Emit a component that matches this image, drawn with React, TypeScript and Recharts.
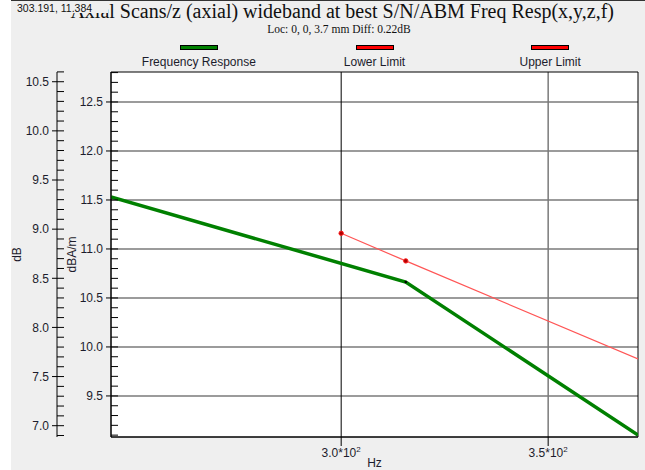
import React from "react"
import { ComposedChart, Line, XAxis, YAxis, CartesianGrid, ReferenceLine, ReferenceArea, Legend } from "recharts"

// Frequency response (dBA/m)
const responseHz = [244.4, 315.6, 371.7]
const responseDb = [11.53, 10.663, 9.1]

// Limit line (dBA/m)
const limitHz = [300, 315.6, 371.7]
const lowerLimitDb = [11.16, 10.878, 9.878]

const xDomain = [244.4, 371.7]
const dbAmDomain = [9.081, 12.806]
const dbDomain = [6.885, 10.599]

const xTicks = [300, 350]
const xTickLabels = ["3.0*10", "3.5*10"]

const dbAmTicks = [
  9.1, 9.2, 9.3, 9.4, 9.5, 9.6, 9.7, 9.8, 9.9, 10.0, 10.1, 10.2, 10.3, 10.4, 10.5,
  10.6, 10.7, 10.8, 10.9, 11.0, 11.1, 11.2, 11.3, 11.4, 11.5, 11.6, 11.7, 11.8, 11.9,
  12.0, 12.1, 12.2, 12.3, 12.4, 12.5, 12.6, 12.7, 12.8,
]
const dbTicks = [
  6.9, 7.0, 7.1, 7.2, 7.3, 7.4, 7.5, 7.6, 7.7, 7.8, 7.9, 8.0, 8.1, 8.2, 8.3, 8.4, 8.5,
  8.6, 8.7, 8.8, 8.9, 9.0, 9.1, 9.2, 9.3, 9.4, 9.5, 9.6, 9.7, 9.8, 9.9, 10.0, 10.1,
  10.2, 10.3, 10.4, 10.5, 10.6,
]
const dbAmGrid = [9.5, 10.0, 10.5, 11.0, 11.5, 12.0, 12.5]

const legendItems = [
  { name: "Frequency Response", color: "#008000" },
  { name: "Lower Limit", color: "#ff0000" },
  { name: "Upper Limit", color: "#ff0000" },
]

const responseData = responseHz.map((hz, i) => ({ hz, value: responseDb[i] }))
const limitData = limitHz.map((hz, i) => ({ hz, value: lowerLimitDb[i] }))

const font = "'Liberation Sans', Arial, sans-serif"
const serif = "'Liberation Serif', 'Times New Roman', serif"
const textColor = "#1c1c2c"

const isMajor = (v: number) => Math.abs(v * 2 - Math.round(v * 2)) < 1e-6

// y ticks: long tick crossing the axis on majors, short inside tick on minors
const YTick = (props: any) => {
  const { x, y, payload } = props
  const v = payload.value
  const major = isMajor(v)
  return (
    <g>
      <line x1={major ? x - 5 : x} x2={x + 7} y1={y} y2={y} stroke="#000" strokeWidth={1} />
      {major && (
        <text x={x - 8} y={y} dy="0.36em" textAnchor="end" fontSize={12} fontFamily={font} fill={textColor}>
          {v.toFixed(1)}
        </text>
      )}
    </g>
  )
}

const XTick = (props: any) => {
  const { x, y, payload } = props
  const label = xTickLabels[xTicks.indexOf(payload.value)]
  return (
    <g>
      <line x1={x} x2={x} y1={y} y2={y + 9} stroke="#000" strokeWidth={1} />
      <text x={x} y={y + 20} textAnchor="middle" fontSize={12} fontFamily={font} fill={textColor}>
        {label}
        <tspan fontSize={8} dy={-5}>2</tspan>
      </text>
    </g>
  )
}

const LimitDot = (props: any) => {
  const { cx, cy, index } = props
  if (index === limitData.length - 1) return <g key={index} />
  return <circle key={index} cx={cx} cy={cy} r={2.2} fill="#b00000" stroke="#ff2020" strokeWidth={1} />
}

const ResponseDot = (props: any) => {
  const { cx, cy, index } = props
  if (index !== 1) return <g key={index} />
  return <circle key={index} cx={cx} cy={cy} r={1.3} fill="#000" />
}

const LegendContent = () => (
  <div style={{ display: "flex", width: 527 }}>
    {legendItems.map((item) => (
      <div key={item.name} style={{ flex: 1, display: "flex", flexDirection: "column", alignItems: "center" }}>
        <div style={{ width: 36, height: 3, background: item.color, border: "1px solid #000", marginTop: 1 }} />
        <div style={{ marginTop: 5, fontFamily: font, fontSize: 12, lineHeight: "14px", color: textColor }}>{item.name}</div>
      </div>
    ))}
  </div>
)

const axisLabel = (text: string, dx: number) => (p: any) => {
  const { x, y, height } = p.viewBox
  const cx = x + dx
  const cy = y + height / 2
  return (
    <text x={cx} y={cy} transform={`rotate(-90 ${cx} ${cy})`} textAnchor="middle" dy="0.36em" fontSize={12} fontFamily={font} fill={textColor}>
      {text}
    </text>
  )
}

const hzLabel = (p: any) => {
  const { x, y, width } = p.viewBox
  return (
    <text x={x + width / 2} y={y + 30} textAnchor="middle" fontSize={12} fontFamily={font} fill={textColor}>
      Hz
    </text>
  )
}

export default function App() {
  return (
    <div style={{ position: "relative", width: 645, height: 470, background: "#efefef", overflow: "hidden" }}>
      <style>{`body{margin:0}`}</style>
      <div style={{ position: "absolute", left: 0, top: 0, width: 11, height: 470, background: "#fff" }} />
      <ComposedChart width={645} height={470} margin={{ top: 72, right: 7, bottom: 0, left: 10 }} style={{ position: "absolute", left: 0, top: 0 }}>
        <CartesianGrid
          yAxisId="inner"
          fill="#fff"
          stroke="#7a7a7a"
          strokeWidth={1.5}
          horizontalValues={dbAmGrid}
          verticalValues={[350]}
        />
        <XAxis
          dataKey="hz"
          type="number"
          domain={xDomain}
          allowDataOverflow
          ticks={xTicks}
          interval={0}
          tick={<XTick />}
          tickLine={false}
          tickSize={0}
          tickMargin={0}
          height={33}
          axisLine={{ stroke: "#000" }}
          label={hzLabel}
        />
        <YAxis
          yAxisId="inner"
          type="number"
          domain={dbAmDomain}
          allowDataOverflow
          ticks={dbAmTicks}
          interval={0}
          tick={<YTick />}
          tickLine={false}
          tickSize={0}
          tickMargin={0}
          width={54}
          axisLine={{ stroke: "#000" }}
          label={axisLabel("dBA/m", 15)}
        />
        <YAxis
          yAxisId="outer"
          type="number"
          domain={dbDomain}
          allowDataOverflow
          ticks={dbTicks}
          interval={0}
          tick={<YTick />}
          tickLine={false}
          tickSize={0}
          tickMargin={0}
          width={47}
          axisLine={{ stroke: "#000" }}
          label={axisLabel("dB", 7)}
        />
        <ReferenceLine yAxisId="inner" x={300} stroke="#000" strokeWidth={1} />
        <ReferenceArea
          yAxisId="inner"
          x1={xDomain[0]}
          x2={xDomain[1]}
          y1={dbAmDomain[0]}
          y2={dbAmDomain[1]}
          fill="none"
          fillOpacity={0}
          stroke="#000"
          strokeWidth={1}
        />
        <Line
          yAxisId="inner"
          data={limitData}
          dataKey="value"
          name="Lower Limit"
          type="linear"
          stroke="#ff5555"
          strokeWidth={1.2}
          dot={<LimitDot />}
          isAnimationActive={false}
        />
        <Line
          yAxisId="inner"
          data={responseData}
          dataKey="value"
          name="Frequency Response"
          type="linear"
          stroke="#008000"
          strokeWidth={3.5}
          dot={<ResponseDot />}
          isAnimationActive={false}
        />
        <Legend
          layout="horizontal"
          verticalAlign="middle"
          wrapperStyle={{ top: 44, left: 111, width: 527, height: 28 }}
          content={<LegendContent />}
        />
      </ComposedChart>
      <svg width={645} height={40} style={{ position: "absolute", left: 0, top: 0, pointerEvents: "none" }}>
        <line x1={11} x2={645} y1={0.5} y2={0.5} stroke="#333" strokeWidth={1} />
        <text x={614} y={18} textAnchor="end" fontSize={20} fontFamily={serif} fill="#111">
          Axial Scans/z (axial) wideband at best S/N/ABM Freq Resp(x,y,z,f)
        </text>
        <text x={339} y={33} textAnchor="middle" fontSize={11.5} fontFamily={serif} fill="#111">
          Loc: 0, 0, 3.7 mm Diff: 0.22dB
        </text>
        <rect x={14} y={1} width={94} height={12} fill="#efefef" />
        <text x={17} y={11.5} fontSize={10.5} fontFamily={font} fill="#111">
          303.191, 11.384
        </text>
      </svg>
    </div>
  )
}
